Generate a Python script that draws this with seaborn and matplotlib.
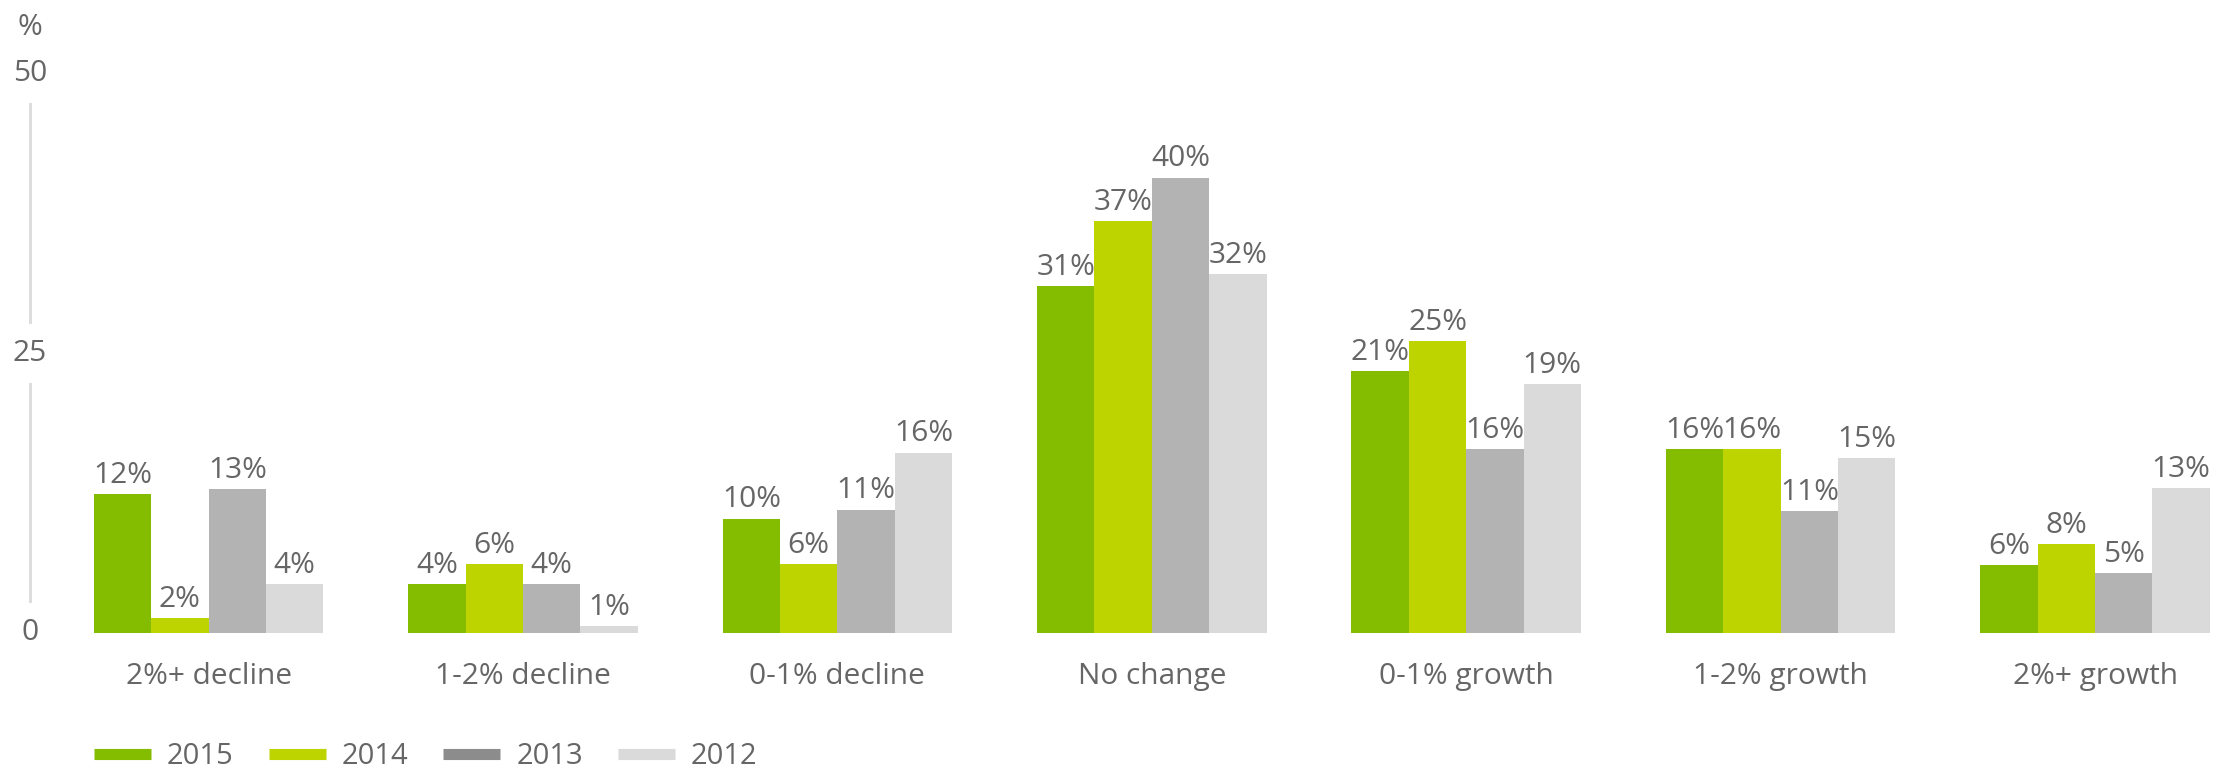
import numpy as np
import pandas as pd
import matplotlib
matplotlib.use("Agg")
import matplotlib.pyplot as plt
from matplotlib.lines import Line2D
import seaborn as sns

categories = ["2%+ decline", "1-2% decline", "0-1% decline", "No change",
              "0-1% growth", "1-2% growth", "2%+ growth"]
years = ["2015", "2014", "2013", "2012"]

# bar heights as drawn in the reference
h2015 = [12.4, 4.3, 10.2, 31.0, 23.4, 16.4, 6.0]
h2014 = [1.3, 6.1, 6.1, 36.8, 26.1, 16.4, 7.9]
h2013 = [12.8, 4.3, 11.0, 40.7, 16.4, 10.9, 5.3]
h2012 = [4.3, 0.6, 16.1, 32.1, 22.2, 15.6, 12.9]

# printed value labels
l2015 = ["12%", "4%", "10%", "31%", "21%", "16%", "6%"]
l2014 = ["2%", "6%", "6%", "37%", "25%", "16%", "8%"]
l2013 = ["13%", "4%", "11%", "40%", "16%", "11%", "5%"]
l2012 = ["4%", "1%", "16%", "32%", "19%", "15%", "13%"]

yticks = [0, 25, 50]

bar_colors = ["#84bc00", "#bed400", "#b3b3b3", "#dadada"]
legend_colors = ["#84bc00", "#bed400", "#8c8c8c", "#dadada"]
text_color = "#666666"

heights = [h2015, h2014, h2013, h2012]
labels = [l2015, l2014, l2013, l2012]

df = pd.DataFrame({
    "category": np.tile(categories, len(years)),
    "year": np.repeat(years, len(categories)),
    "value": np.concatenate(heights),
})

sns.set_theme(style="white")
plt.rcParams["font.family"] = ["Open Sans", "DejaVu Sans"]
FS = 21.5

fig = plt.figure(figsize=(22.24, 7.72), dpi=100)
ax = fig.add_axes([30 / 2224, 1 - 632.5 / 772, 1 - 30 / 2224, (632.5 - 73.7) / 772])

sns.barplot(data=df, x="category", y="value", hue="year", order=categories,
            hue_order=years, palette=bar_colors, width=0.73, gap=0,
            edgecolor="none", linewidth=0, saturation=1, ax=ax, legend=False)

for cont, labs in zip(ax.containers, labels):
    ax.bar_label(cont, labels=labs, padding=3, fontsize=FS, color=text_color)

ax.set_ylim(0, 50)
ax.set_xlim(-0.568, 6.41)
ax.set_xlabel("")
ax.set_ylabel("")
ax.set_yticks([])
ax.tick_params(axis="x", length=0, pad=21, labelsize=FS, labelcolor=text_color)

for s in ["top", "right", "bottom"]:
    ax.spines[s].set_visible(False)
ax.spines["left"].set_color("#dddddd")
ax.spines["left"].set_linewidth(2.2)

trans = ax.get_yaxis_transform()
for t in yticks:
    ax.text(0, t, str(t), transform=trans, ha="center", va="center",
            fontsize=FS, color=text_color, zorder=5, clip_on=False,
            bbox=dict(boxstyle="square,pad=0.5", facecolor="white", edgecolor="none"))

ax.annotate("%", xy=(0, 1), xycoords="axes fraction", xytext=(0, 46),
            textcoords="offset pixels", ha="center", va="center",
            fontsize=FS, color=text_color)

handles = [Line2D([0], [0], color=c, lw=8, solid_capstyle="butt") for c in legend_colors]
fig.legend(handles, years, loc="center left", bbox_to_anchor=(94 / 2224, 1 - 757 / 772),
           ncol=4, frameon=False, fontsize=21, labelcolor=text_color,
           handlelength=1.95, handletextpad=0.55, columnspacing=1.2,
           borderpad=0, borderaxespad=0)

fig.savefig("out.png", dpi=100, facecolor="white")
